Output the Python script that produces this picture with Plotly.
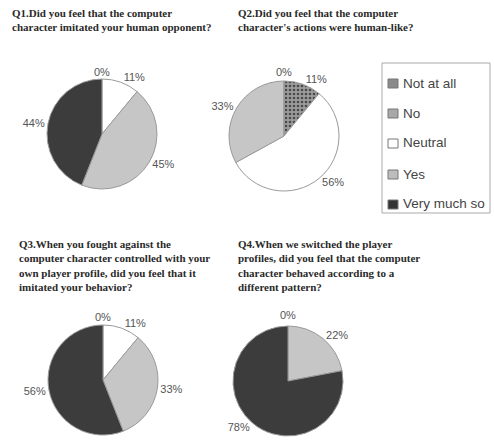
import plotly.graph_objects as go

W, H = 494, 445

categories = ["Not at all", "No", "Neutral", "Yes", "Very much so"]
q1_values = [0, 0, 11, 45, 44]
q2_values = [0, 11, 56, 33, 0]
q3_values = [0, 0, 11, 33, 56]
q4_values = [0, 0, 0, 22, 78]

titles = [
    "Q1.Did you feel that the computer<br>character imitated your human opponent?",
    "Q2.Did you feel that the computer<br>character's actions were human-like?",
    "Q3.When you fought against the<br>computer character controlled with your<br>own player profile, did you feel that it<br>imitated your behavior?",
    "Q4.When we switched the player<br>profiles, did you feel that the computer<br>character behaved according to a<br>different pattern?",
]

# styles
slice_colors = ["#8c8c8c", "#9c9c9c", "#ffffff", "#c6c6c6", "#3c3c3c"]
pattern_shapes = ["+", ".", "", "", ""]
pattern_fg = ["#555555", "#4a4a4a", "#ffffff", "#c6c6c6", "#3c3c3c"]
swatch_colors = ["#8a8a8a", "#a8a8a8", "#ffffff", "#bdbdbd", "#333333"]

# pie centers in pixels, radius
centers = [(102, 134), (284, 136), (103, 380), (288, 381)]
R = 55
title_pos = [(10, 5), (236, 5), (17, 236), (236, 236)]
zero_offset = [62, 64, 63, 66]

label_font = dict(family="Liberation Sans, Arial, sans-serif", size=11, color="#555555")


def pct_text(vals):
    # zero slices are labelled once, above the pie (see annotations)
    return ["" if v == 0 else f"{v}%" for v in vals]


fig = go.Figure()
annotations = []
for vals, (cx, cy), zo in zip([q1_values, q2_values, q3_values, q4_values], centers, zero_offset):
    dom_x = [(cx - R) / W, (cx + R) / W]
    dom_y = [1 - (cy + R) / H, 1 - (cy - R) / H]
    fig.add_trace(go.Pie(
        labels=categories,
        values=vals,
        text=pct_text(vals),
        textinfo="text",
        textposition="outside",
        sort=False,
        direction="clockwise",
        rotation=0,
        showlegend=False,
        domain=dict(x=dom_x, y=dom_y),
        marker=dict(
            colors=slice_colors,
            line=dict(color="#9a9a9a", width=1),
            pattern=dict(shape=pattern_shapes, fgcolor=pattern_fg,
                         bgcolor=slice_colors, size=4, solidity=0.35,
                         fillmode="replace"),
        ),
        outsidetextfont=label_font,
        hoverinfo="label+percent",
    ))
    zeros = [v for v in vals if v == 0]
    if zeros:
        annotations.append(dict(
            text=f"{zeros[0]}%", x=cx / W, y=1 - (cy - zo) / H,
            xref="paper", yref="paper", xanchor="center", yanchor="middle",
            showarrow=False, font=label_font,
        ))

for t, (tx, ty) in zip(titles, title_pos):
    annotations.append(dict(
        text=t, x=tx / W, y=1 - ty / H, xref="paper", yref="paper",
        xanchor="left", yanchor="top", align="left", showarrow=False,
        font=dict(family="Liberation Serif, Times New Roman, serif",
                  size=11, color="#2a2a2a", weight="bold"),
    ))

shapes = []
# legend box
lx0, ly0, lx1, ly1 = 382, 63, 490, 213
shapes.append(dict(type="rect", xref="paper", yref="paper",
                   x0=lx0 / W, x1=lx1 / W, y0=1 - ly1 / H, y1=1 - ly0 / H,
                   line=dict(color="#aaaaaa", width=1), fillcolor="white"))
item_y = [83, 113, 143, 174, 204]
for cat, col, iy in zip(categories, swatch_colors, item_y):
    shapes.append(dict(type="rect", xref="paper", yref="paper",
                       x0=388 / W, x1=398 / W, y0=1 - (iy + 5) / H, y1=1 - (iy - 4) / H,
                       line=dict(color="#777777", width=1), fillcolor=col))
    annotations.append(dict(
        text=cat, x=401 / W, y=1 - iy / H, xref="paper", yref="paper",
        xanchor="left", yanchor="middle", showarrow=False,
        font=dict(family="Liberation Sans, Arial, sans-serif", size=13.5,
                  color="#444444"),
    ))

fig.update_layout(
    width=W, height=H,
    margin=dict(l=0, r=0, t=0, b=0),
    paper_bgcolor="white", plot_bgcolor="white",
    annotations=annotations, shapes=shapes,
)

fig.write_html("out.html")
